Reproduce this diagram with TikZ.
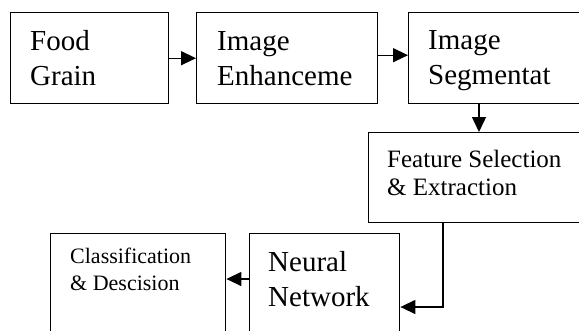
\documentclass[tikz,border=0pt]{standalone}
\usepackage{fontspec}
\setmainfont{Liberation Serif}
\usetikzlibrary{arrows.meta,calc}
\begin{document}
\begin{tikzpicture}[x=1pt,y=-1pt,
  box/.style={draw,line width=1.4pt,inner sep=0pt},
  big/.style={font=\fontsize{29}{35}\selectfont,align=left,inner sep=0pt},
  mid/.style={font=\fontsize{25}{28}\selectfont,align=left,inner sep=0pt},
  small/.style={font=\fontsize{22}{27}\selectfont,align=left,inner sep=0pt},
  arr/.style={line width=1.4pt,-{Triangle[length=15pt,width=14pt]}}]
\useasboundingbox (0,0) rectangle (579,330);
\clip (0,0) rectangle (579,330);
% boxes
\node[box,anchor=north west,minimum width=158pt,minimum height=91pt] (b1) at (10,12) {};
\node[box,anchor=north west,minimum width=181pt,minimum height=91pt] (b2) at (196,12) {};
\node[box,anchor=north west,minimum width=200pt,minimum height=91pt] (b3) at (408,12) {};
\node[box,anchor=north west,minimum width=240pt,minimum height=90pt] (b4) at (368,132) {};
\node[box,anchor=north west,minimum width=150pt,minimum height=120pt] (b5) at (249,233) {};
\node[box,anchor=north west,minimum width=175pt,minimum height=120pt] (b6) at (50,233) {};
% texts (anchored at the baseline of their last line)
\node[big,anchor=base west] (t1) at (30,85) {Food\\Grain};
\node[big,anchor=base west] (t2) at (217,85) {Image\\Enhanceme};
\node[big,anchor=base west] (t3) at (428,84) {Image\\Segmentat};
\node[mid,anchor=base west] (t4) at (387,195) {Feature Selection\\\& Extraction};
\node[big,anchor=base west] (t5) at (268,306) {Neural\\Network};
\node[small,anchor=base west] (t6) at (70,290) {Classification\\\& Descision};
% helper coordinates
\coordinate (c3) at (479,0);
\coordinate (c4) at (443,307);
\coordinate (c5) at (0,279);
% connectors
\draw[arr] (b1.east) -- (b2.west);
\draw[arr] ($(b2.east)+(0,-3)$) -- ($(b3.west)+(0,-3)$);
\draw[arr] (b3.south -| c3) -- (b4.north -| c3);
\draw[arr] (b4.south -| c4) |- (b5.east |- c4);
\draw[arr] (b5.west |- c5) -- (b6.east |- c5);
\end{tikzpicture}
\end{document}
